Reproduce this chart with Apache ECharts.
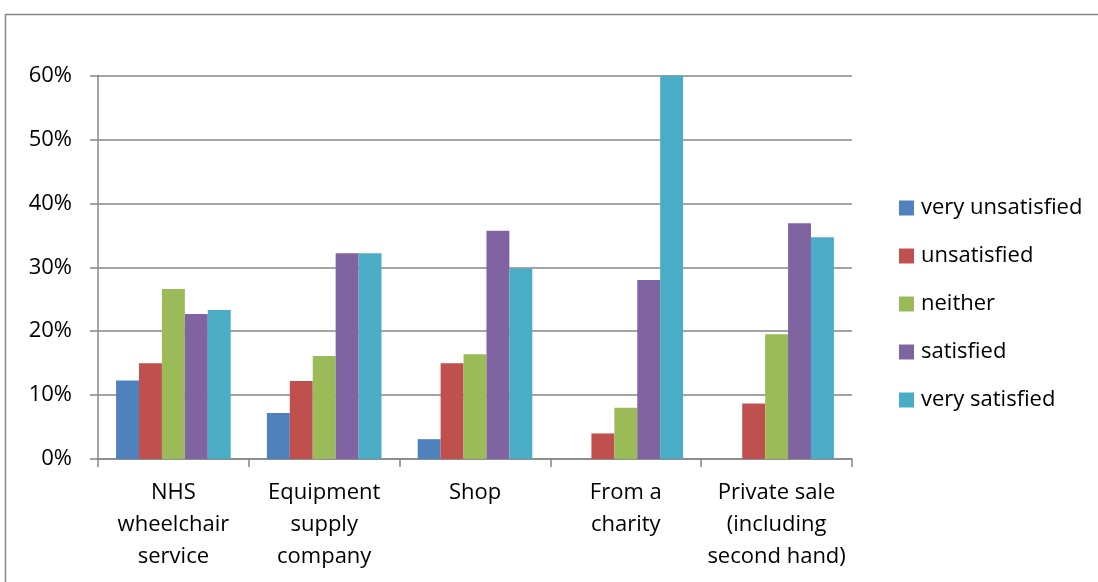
<!DOCTYPE html>
<html><head><meta charset="utf-8">
<script src="https://cdn.jsdelivr.net/npm/echarts@6/dist/echarts.min.js"></script>
<style>html,body{margin:0;padding:0;background:#fff}#c{width:1098px;height:582px}</style>
</head><body><div id="c"></div>
<script>
const categories = ['NHS\nwheelchair\nservice', 'Equipment\nsupply\ncompany', 'Shop', 'From a\ncharity', 'Private sale\n(including\nsecond hand)'];
const seriesNames = ['very unsatisfied', 'unsatisfied', 'neither', 'satisfied', 'very satisfied'];
const veryUnsatisfied = [12.3, 7.2, 3.1, 0, 0];
const unsatisfied = [15.0, 12.2, 15.0, 4.0, 8.7];
const neither = [26.6, 16.1, 16.4, 8.0, 19.5];
const satisfied = [22.7, 32.2, 35.7, 28.0, 36.9];
const verySatisfied = [23.3, 32.2, 29.8, 60.0, 34.7];
const yTicks = [0, 10, 20, 30, 40, 50, 60];
const colors = ['#4f81bd', '#c0504d', '#9bbb59', '#8064a2', '#4bacc6'];

const values = [veryUnsatisfied, unsatisfied, neither, satisfied, verySatisfied];
const font = 'Open Sans';
const chart = echarts.init(document.getElementById('c'), null, {renderer: 'canvas'});
chart.setOption({
  animation: false,
  color: colors,
  textStyle: {fontFamily: font},
  graphic: [{
    type: 'rect', shape: {x: 5.5, y: 14.5, width: 1200, height: 700},
    style: {fill: 'none', stroke: '#888', lineWidth: 1.5}, silent: true, z: -1
  }],
  grid: {left: 98, right: 246, top: 75.5, bottom: 123, containLabel: false},
  legend: {
    orient: 'vertical', left: 894, top: 191, itemGap: 24, itemWidth: 15, itemHeight: 15,
    icon: 'rect',
    textStyle: {fontSize: 22, lineHeight: 24, color: '#000', fontFamily: font, padding: [0, 0, 0, 2]},
    data: seriesNames
  },
  xAxis: {
    type: 'category', data: categories,
    axisLine: {lineStyle: {color: '#868686', width: 1.5}},
    axisTick: {show: true, length: 8, lineStyle: {color: '#868686', width: 1.5}},
    axisLabel: {fontSize: 22, color: '#000', lineHeight: 32, margin: 18, interval: 0, fontFamily: font}
  },
  yAxis: {
    type: 'value', min: 0, max: 60, interval: 10,
    axisLine: {show: true, lineStyle: {color: '#868686', width: 1.5}},
    axisTick: {show: true, length: 8, lineStyle: {color: '#868686', width: 1.5}},
    splitLine: {lineStyle: {color: '#868686', width: 1.5}},
    axisLabel: {fontSize: 22, color: '#000', margin: 26, fontFamily: font,
      formatter: v => yTicks.includes(v) ? v + '%' : ''}
  },
  series: seriesNames.map((n, i) => ({
    name: n, type: 'bar', data: values[i],
    barGap: '0%', barCategoryGap: '24%',
    itemStyle: {color: colors[i]}
  }))
});
</script></body></html>
